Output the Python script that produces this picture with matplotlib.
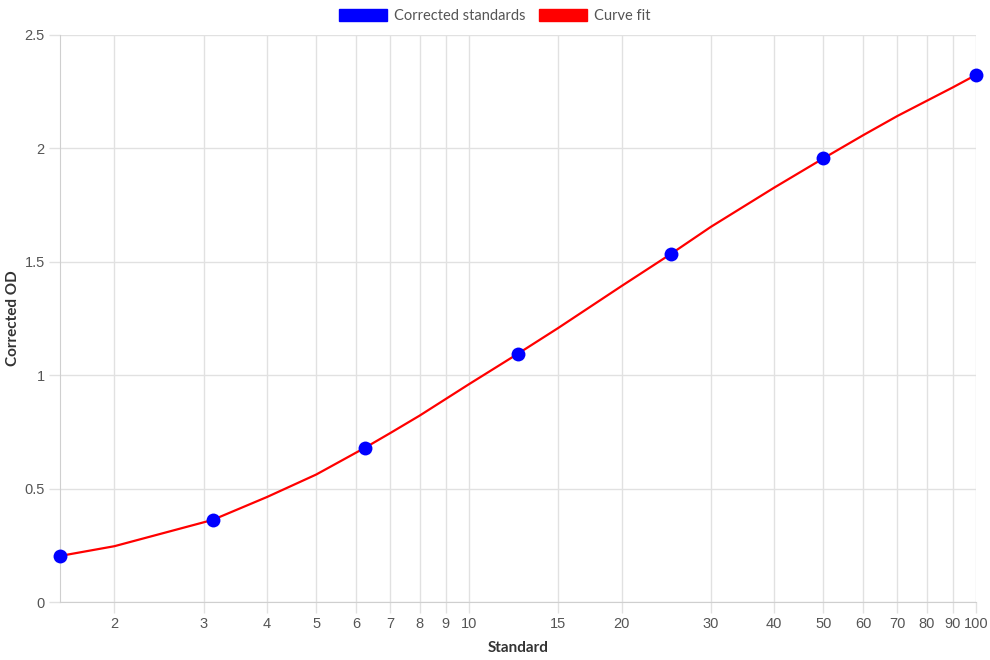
import matplotlib.pyplot as plt
from matplotlib.patches import Patch

# standards (concentration) and their corrected OD
standard_x = [1.5625, 3.125, 6.25, 12.5, 25, 50, 100]
standard_od = [0.203, 0.362, 0.681, 1.095, 1.534, 1.956, 2.324]

# curve fit
fit_x = [1.5625, 2, 3.125, 4, 5, 6.25, 7, 8, 10, 12.5, 15, 20, 25, 30,
         40, 50, 60, 70, 80, 90, 100]
fit_od = [0.203, 0.246, 0.362, 0.463, 0.562, 0.681, 0.745, 0.822, 0.96, 1.095,
          1.208, 1.393, 1.534, 1.654, 1.827, 1.956, 2.059, 2.143, 2.21, 2.269,
          2.324]

x_ticks = [2, 3, 4, 5, 6, 7, 8, 9, 10, 15, 20, 30, 40, 50, 60, 70, 80, 90, 100]
y_ticks = [0, 0.5, 1, 1.5, 2, 2.5]

GRID = "#e1e1e1"
TICK_TXT = "#555555"
TITLE_TXT = "#333333"


def main() -> None:
    fig = plt.figure(figsize=(9.9, 6.6), dpi=100)
    ax = fig.add_axes([60 / 990, 1 - 602 / 660, 916 / 990, 567 / 660])

    ax.plot(fit_x, fit_od, color="red", lw=1.6, zorder=3,
            solid_joinstyle="round", solid_capstyle="round")
    ax.plot(standard_x, standard_od, "o", color="blue", ms=10, mew=0, zorder=4,
            clip_on=False)

    ax.set_xscale("log")
    ax.set_xlim(1.5625, 100)
    ax.set_ylim(0, 2.5)
    ax.xaxis.set_minor_locator(plt.NullLocator())
    ax.set_xticks(x_ticks)
    ax.set_xticklabels([str(v) for v in x_ticks])
    ax.set_yticks(y_ticks)
    ax.set_yticklabels([f"{v:g}" for v in y_ticks])

    ax.grid(True, color=GRID, lw=1)
    ax.set_axisbelow(True)
    for side in ["top", "right"]:
        ax.spines[side].set_visible(False)
    for side in ["left", "bottom"]:
        ax.spines[side].set_color("#cfcfcf")
    ax.tick_params(axis="both", colors=GRID, length=8, width=1,
                   labelcolor=TICK_TXT, labelsize=10.5)
    ax.tick_params(axis="x", pad=3)
    ax.tick_params(axis="y", pad=3)
    for lab in ax.get_xticklabels() + ax.get_yticklabels():
        lab.set_family(["Liberation Sans", "DejaVu Sans"])

    ax.set_xlabel("Standard", fontsize=11, fontweight="bold", color=TITLE_TXT,
                  family=["Lato", "DejaVu Sans"], labelpad=7)
    ax.set_ylabel("Corrected OD", fontsize=11, fontweight="bold", color=TITLE_TXT,
                  family=["Lato", "DejaVu Sans"])
    ax.yaxis.set_label_coords(-40 / 916, 0.5)

    handles = [Patch(facecolor="blue", edgecolor="blue"),
               Patch(facecolor="red", edgecolor="red")]
    fig.legend(handles, ["Corrected standards", "Curve fit"], loc="center",
               bbox_to_anchor=(0.5, 1 - 16 / 660), ncol=2, frameon=False,
               handlelength=3.3, handleheight=0.9, handletextpad=0.5,
               columnspacing=0.9, prop={"family": ["Lato", "DejaVu Sans"],
                                        "size": 10.5}, labelcolor=TICK_TXT)

    fig.savefig("out.png", dpi=100)


if __name__ == "__main__":
    main()
